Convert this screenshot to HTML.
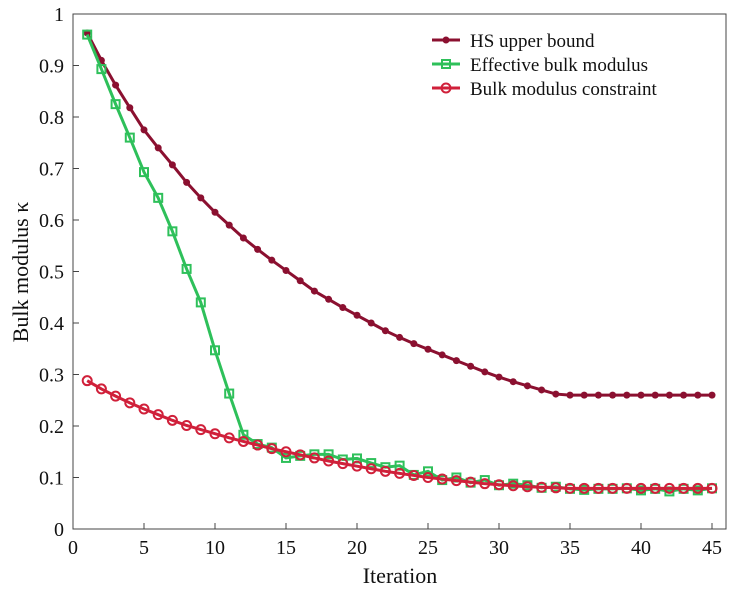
<!DOCTYPE html>
<html><head><meta charset="utf-8"><style>
body{margin:0;background:#fff}
svg text{font-family:"Liberation Serif",serif;fill:#111}
</style></head><body>
<svg id="chart" width="733" height="587">
<rect x="73" y="14" width="653" height="515" fill="none" stroke="#444" stroke-width="1"/>
<g id="axes"></g><g id="series"></g>
<text x="400" y="583" font-size="22" text-anchor="middle">Iteration</text>
<text transform="translate(28,272) rotate(-90)" font-size="22" text-anchor="middle">Bulk modulus κ</text>
<g id="legend">
<g><line x1="432" y1="40" x2="460" y2="40" stroke="#8b1030" stroke-width="3"/><circle cx="446" cy="40" r="3.5" fill="#8b1030"/><text x="470" y="47" font-size="19">HS upper bound</text></g>
<g><line x1="432" y1="64" x2="460" y2="64" stroke="#2ec05a" stroke-width="3"/><rect x="442" y="60" width="8" height="8" fill="none" stroke="#2ec05a" stroke-width="2"/><text x="470" y="71" font-size="19">Effective bulk modulus</text></g>
<g><line x1="432" y1="88" x2="460" y2="88" stroke="#d0203a" stroke-width="3"/><circle cx="446" cy="88" r="4.5" fill="none" stroke="#d0203a" stroke-width="2"/><text x="470" y="95" font-size="19">Bulk modulus constraint</text></g>
</g>
</svg>
<script>
const xTicks=[0,5,10,15,20,25,30,35,40,45];
const yTicks=[0,0.1,0.2,0.3,0.4,0.5,0.6,0.7,0.8,0.9,1];
const yTickLabels=["0","0.1","0.2","0.3","0.4","0.5","0.6","0.7","0.8","0.9","1"];
const hsBound=[0.963,0.91,0.862,0.818,0.775,0.74,0.707,0.673,0.643,0.615,0.59,0.565,0.543,0.522,0.502,0.482,0.462,0.446,0.43,0.415,0.4,0.385,0.372,0.36,0.349,0.338,0.327,0.316,0.305,0.295,0.286,0.278,0.27,0.262,0.26,0.26,0.26,0.26,0.26,0.26,0.26,0.26,0.26,0.26,0.26];
const effective=[0.96,0.893,0.825,0.76,0.693,0.643,0.578,0.505,0.44,0.347,0.263,0.183,0.165,0.158,0.138,0.142,0.145,0.145,0.135,0.137,0.128,0.12,0.123,0.105,0.112,0.095,0.1,0.09,0.095,0.085,0.088,0.085,0.08,0.082,0.078,0.076,0.078,0.078,0.079,0.075,0.078,0.073,0.078,0.075,0.079];
const constraint=[0.288,0.272,0.258,0.245,0.233,0.222,0.211,0.201,0.193,0.185,0.177,0.17,0.163,0.156,0.15,0.144,0.138,0.132,0.127,0.122,0.117,0.112,0.108,0.104,0.1,0.097,0.094,0.091,0.088,0.086,0.084,0.082,0.081,0.08,0.079,0.079,0.079,0.079,0.079,0.079,0.079,0.079,0.079,0.079,0.079];
const NS="http://www.w3.org/2000/svg";
const X=v=>73+v*14.2, Y=v=>529-v*515;
function mk(t,a,p){const e=document.createElementNS(NS,t);for(const k in a)e.setAttribute(k,a[k]);p.appendChild(e);return e;}
const ax=document.getElementById('axes');
xTicks.forEach(t=>{
  const l=mk('line',{x1:X(t),x2:X(t),y1:529,y2:523,stroke:'#444'},ax);
  
  
  const tx=mk('text',{x:X(t),y:554,'font-size':20,'text-anchor':'middle'},ax);tx.textContent=t;
  
  
});
yTicks.forEach((t,i)=>{
  const l=mk('line',{x1:73,x2:79,y1:Y(t),y2:Y(t),stroke:'#444'},ax);
  
  
  const tx=mk('text',{x:64,y:Y(t)+7,'font-size':20,'text-anchor':'end'},ax);tx.textContent=yTickLabels[i];
  
  
});
const sg=document.getElementById('series');
function draw(data,color,marker,name){
  const g=mk('g',{},sg);
  
  
  mk('polyline',{points:data.map((v,i)=>X(i+1)+','+Y(v)).join(' '),fill:'none',stroke:color,'stroke-width':3},g);
  data.forEach((v,i)=>{
    let m;
    if(marker==='dot')m=mk('circle',{cx:X(i+1),cy:Y(v),r:3.5,fill:color},g);
    else if(marker==='sq')m=mk('rect',{x:X(i+1)-4,y:Y(v)-4,width:8,height:8,fill:'none',stroke:color,'stroke-width':2},g);
    else m=mk('circle',{cx:X(i+1),cy:Y(v),r:4.5,fill:'none',stroke:color,'stroke-width':2},g);
    
    
  });
}
draw(hsBound,'#8b1030','dot','hs-upper-bound-series');
draw(effective,'#2ec05a','sq','effective-bulk-modulus-series');
draw(constraint,'#d0203a','o','bulk-modulus-constraint-series');
</script>
</body></html>
